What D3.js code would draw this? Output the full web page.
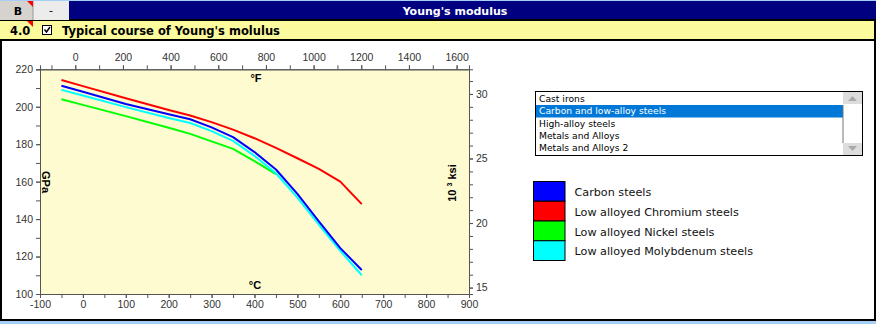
<!DOCTYPE html>
<html>
<head>
<meta charset="utf-8">
<script src="https://cdn.jsdelivr.net/npm/d3@7"></script>
<style>
body { margin: 0; background: #fff; }
svg { display: block; }
.tick-label { font-family: "Liberation Sans", Arial, sans-serif; font-size: 10.5px; fill: #333; }
</style>
</head>
<body>
<svg id="chart" width="876" height="324"></svg>
<script>
// temperatures in deg C
var tempsC = [-50, 0, 100, 200, 250, 300, 350, 400, 450, 500, 550, 600, 650];
var tempsNickel = [-50, 0, 100, 200, 250, 300, 350, 400, 450];

// Young's modulus, GPa
var carbonSteels = [211.2, 208, 201.5, 196, 193.3, 189, 183.8, 175.8, 166.5, 153.5, 138.8, 124.5, 112.8];
var chromiumSteels = [214.3, 211, 204.5, 198.3, 195.3, 191.8, 187.8, 183.2, 178, 172.5, 166.8, 160, 148];
var nickelSteels = [204, 201, 195, 188.8, 185.5, 181.5, 177.5, 171, 164];
var molybdenumSteels = [209, 206, 199.8, 194, 191.3, 187, 181.8, 173.8, 164.5, 151.5, 137, 123, 110];

var seriesNames = ["Carbon steels", "Low alloyed Chromium steels", "Low alloyed Nickel steels", "Low alloyed Molybdenum steels"];
var seriesColors = ["#0000ff", "#ff0000", "#00ff00", "#00ffff"];

var materialGroups = ["Cast irons", "Carbon and low-alloy steels", "High-alloy steels", "Metals and Alloys", "Metals and Alloys 2"];
var selectedGroup = 1;

var ticksC = [-100, 0, 100, 200, 300, 400, 500, 600, 700, 800, 900];
var ticksF = [0, 200, 400, 600, 800, 1000, 1200, 1400, 1600];
var ticksGPa = [100, 120, 140, 160, 180, 200, 220];
var ticksKsi = [15, 20, 25, 30];

var svg = d3.select("#chart");

// ---- frame / header ----
svg.append("rect").attr("x", 0).attr("y", 0).attr("width", 876).attr("height", 324).attr("fill", "#a6cff5");
svg.append("rect").attr("x", 0).attr("y", 1).attr("width", 876).attr("height", 19).attr("fill", "#000080");
svg.append("rect").attr("x", 0).attr("y", 19).attr("width", 876).attr("height", 302).attr("fill", "#000");
svg.append("rect").attr("x", 0).attr("y", 21).attr("width", 874).attr("height", 18).attr("fill", "#fbfb9e");
svg.append("rect").attr("x", 2).attr("y", 41).attr("width", 872).attr("height", 278).attr("fill", "#fff");

// buttons
svg.append("rect").attr("x", 0).attr("y", 1).attr("width", 33).attr("height", 19).attr("fill", "#d6d3ce");
svg.append("rect").attr("x", 33).attr("y", 1).attr("width", 36).attr("height", 19).attr("fill", "#ececec");
svg.append("line").attr("x1", 33).attr("x2", 33).attr("y1", 1).attr("y2", 20).attr("stroke", "#999");
svg.append("path").attr("d", "M27,1L33,1L33,7Z").attr("fill", "#ff0000");
svg.append("path").attr("d", "M27,21L33,21L33,27Z").attr("fill", "#ff0000");
svg.append("text").attr("x", 18).attr("y", 15).attr("text-anchor", "middle")
    .style("font-family", "DejaVu Sans").style("font-size", "11px").style("font-weight", "bold").text("B");
svg.append("text").attr("x", 51).attr("y", 14).attr("text-anchor", "middle")
    .style("font-family", "DejaVu Sans").style("font-size", "11px").text("-");
svg.append("text").attr("x", 455).attr("y", 15).attr("text-anchor", "middle").attr("fill", "#fff")
    .style("font-family", "DejaVu Sans").style("font-size", "11px").style("font-weight", "bold").text("Young's modulus");

// section row
svg.append("text").attr("x", 10).attr("y", 35)
    .style("font-family", "DejaVu Sans").style("font-size", "11.5px").style("font-weight", "bold").text("4.0");
svg.append("rect").attr("x", 42.5).attr("y", 25.5).attr("width", 9).attr("height", 9).attr("fill", "#fff").attr("stroke", "#000");
svg.append("path").attr("d", "M44.5,29.5L46.5,32L50,27").attr("fill", "none").attr("stroke", "#000").attr("stroke-width", 1.5);
svg.append("text").attr("x", 62).attr("y", 35)
    .style("font-family", "DejaVu Sans").style("font-size", "11.5px").style("font-weight", "bold")
    .text("Typical course of Young's molulus");

// ---- chart ----
var x = d3.scaleLinear().domain([-100, 900]).range([40, 469]);
var y = d3.scaleLinear().domain([100, 220]).range([294, 69.3]);
var xF = d3.scaleLinear().domain([-100 * 9 / 5 + 32, 900 * 9 / 5 + 32]).range([40, 469]);
var yK = d3.scaleLinear().domain([100 / 6.89476, 220 / 6.89476]).range([294, 69.3]);

svg.append("rect").attr("x", 40).attr("y", 69.3).attr("width", 429).attr("height", 224.7).attr("fill", "#fdfbcf");

var axisColor = "#555";
var plain = function(d) { return String(d); };

function styleAxis(g) {
    g.selectAll("path.domain").attr("stroke", axisColor);
    g.selectAll(".tick line").attr("stroke", axisColor);
    g.selectAll(".tick text").attr("class", "tick-label").attr("fill", "#333");
}

function minorTicks(axis, values) {
    return axis.tickValues(values).tickFormat("").tickSizeOuter(0).tickSize(4);
}

// minor ticks
svg.append("g").attr("transform", "translate(0,294)")
    .call(minorTicks(d3.axisBottom(x), d3.range(-100, 901, 50))).call(styleAxis);
svg.append("g").attr("transform", "translate(40,0)")
    .call(minorTicks(d3.axisLeft(y), d3.range(100, 221, 10))).call(styleAxis);
svg.append("g").attr("transform", "translate(0,69.3)")
    .call(minorTicks(d3.axisTop(xF), d3.range(-100, 1601, 100))).call(styleAxis);
svg.append("g").attr("transform", "translate(469,0)")
    .call(minorTicks(d3.axisRight(yK), d3.range(15, 32, 1))).call(styleAxis);

// major ticks with labels
svg.append("g").attr("transform", "translate(0,294)")
    .call(d3.axisBottom(x).tickValues(ticksC).tickFormat(plain).tickSize(4).tickSizeOuter(0).tickPadding(3)).call(styleAxis);
svg.append("g").attr("transform", "translate(40,0)")
    .call(d3.axisLeft(y).tickValues(ticksGPa).tickFormat(plain).tickSize(4).tickSizeOuter(0).tickPadding(3)).call(styleAxis);
svg.append("g").attr("transform", "translate(0,69.3)")
    .call(d3.axisTop(xF).tickValues(ticksF).tickFormat(plain).tickSize(4).tickSizeOuter(0).tickPadding(4)).call(styleAxis);
svg.append("g").attr("transform", "translate(469,0)")
    .call(d3.axisRight(yK).tickValues(ticksKsi).tickFormat(plain).tickSize(4).tickSizeOuter(0).tickPadding(3)).call(styleAxis);

// axis titles
var labelFont = "Liberation Sans";
svg.append("text").attr("x", 256).attr("y", 82).attr("text-anchor", "middle")
    .style("font-family", labelFont).style("font-size", "11px").style("font-weight", "bold").text("°F");
svg.append("text").attr("x", 255).attr("y", 289).attr("text-anchor", "middle")
    .style("font-family", labelFont).style("font-size", "11px").style("font-weight", "bold").text("°C");
svg.append("text").attr("transform", "translate(42,182) rotate(90)").attr("text-anchor", "middle")
    .style("font-family", labelFont).style("font-size", "11px").style("font-weight", "bold").text("GPa");
var ksi = svg.append("text").attr("transform", "translate(456,183) rotate(-90)").attr("text-anchor", "middle")
    .style("font-family", labelFont).style("font-size", "11px").style("font-weight", "bold");
ksi.append("tspan").text("10 ");
ksi.append("tspan").attr("dy", -4).style("font-size", "7px").text("3");
ksi.append("tspan").attr("dy", 4).text(" ksi");

// lines
var line = d3.line().x(function(d) { return x(d[0]); }).y(function(d) { return y(d[1]); });
var seriesData = [
    {name: seriesNames[2], color: seriesColors[2], pts: d3.zip(tempsNickel, nickelSteels)},
    {name: seriesNames[3], color: seriesColors[3], pts: d3.zip(tempsC, molybdenumSteels)},
    {name: seriesNames[0], color: seriesColors[0], pts: d3.zip(tempsC, carbonSteels)},
    {name: seriesNames[1], color: seriesColors[1], pts: d3.zip(tempsC, chromiumSteels)}
];
svg.append("g").selectAll("path").data(seriesData).enter().append("path")
    .attr("d", function(d) { return line(d.pts); })
    .attr("fill", "none")
    .attr("stroke", function(d) { return d.color; })
    .attr("stroke-width", 2)
    .attr("stroke-linejoin", "round");

// ---- list box ----
var lb = svg.append("g");
lb.append("rect").attr("x", 535.5).attr("y", 91.5).attr("width", 327).attr("height", 64).attr("fill", "#fff").attr("stroke", "#000");
lb.append("rect").attr("x", 536).attr("y", 105).attr("width", 307).attr("height", 12.5).attr("fill", "#0078d7");
lb.selectAll("text.item").data(materialGroups).enter().append("text")
    .attr("class", "item")
    .attr("x", 539)
    .attr("y", function(d, i) { return 102 + i * 12.3; })
    .attr("fill", function(d, i) { return i === selectedGroup ? "#fff" : "#000"; })
    .style("font-family", "DejaVu Sans").style("font-size", "9.2px")
    .text(function(d) { return d; });
// scrollbar
lb.append("rect").attr("x", 843).attr("y", 92).attr("width", 19).attr("height", 63).attr("fill", "#fff");
lb.append("line").attr("x1", 843).attr("x2", 843).attr("y1", 105).attr("y2", 143).attr("stroke", "#777");
lb.append("rect").attr("x", 843).attr("y", 92).attr("width", 19).attr("height", 12).attr("fill", "#ddd");
lb.append("rect").attr("x", 843).attr("y", 143).attr("width", 19).attr("height", 12).attr("fill", "#ddd");
lb.append("path").attr("d", "M848,101L857,101L852.5,96Z").attr("fill", "#aaa");
lb.append("path").attr("d", "M848,146L857,146L852.5,151Z").attr("fill", "#aaa");

// ---- legend ----
var legendOrder = [0, 1, 2, 3];
var lg = svg.append("g").selectAll("g").data(legendOrder).enter().append("g")
    .attr("transform", function(d, i) { return "translate(533.5," + (181.5 + i * 19.75) + ")"; });
lg.append("rect").attr("width", 31.5).attr("height", 19.75)
    .attr("fill", function(d) { return seriesColors[d]; })
    .attr("stroke", "#000");
lg.append("text").attr("x", 41).attr("y", 14.5)
    .style("font-family", "DejaVu Sans").style("font-size", "11.2px").attr("fill", "#111")
    .text(function(d) { return seriesNames[d]; });
</script>
</body>
</html>
